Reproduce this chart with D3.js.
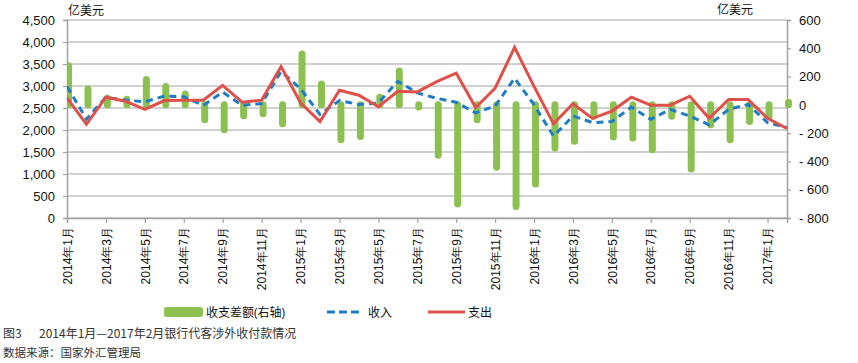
<!DOCTYPE html>
<html>
<head>
<meta charset="utf-8">
<script src="https://cdn.jsdelivr.net/npm/d3@7/dist/d3.min.js"></script>
<style>
  body { margin: 0; background: #fff; }
  svg { display: block; font-family: "Open Sans", "Noto Sans CJK SC", sans-serif; }
</style>
</head>
<body>
<svg id="chart" width="858" height="363"></svg>
<script>
// months 2014-01 .. 2017-02
var months = [];
for (var yr = 2014; yr <= 2017; yr++) {
	for (var m = 1; m <= 12; m++) {
		if (yr == 2017 && m > 2) break;
		months.push(yr + "年" + m + "月");
	}
}

// 收入 (left axis, 亿美元)
var income = [2990, 2245, 2745, 2680, 2640, 2770, 2755, 2560, 2860, 2560, 2600, 3330,
	2940, 2355, 2670, 2580, 2615, 3105, 2845, 2720, 2630, 2390, 2545, 3175, 2575, 1860,
	2318, 2168, 2190, 2520, 2243, 2468, 2318, 2115, 2468, 2580, 2168, 2055];

// 支出 (left axis)
var expense = [2730, 2130, 2745, 2655, 2468, 2670, 2678, 2678, 3015, 2633, 2678, 3440,
	2618, 2190, 2903, 2790, 2528, 2880, 2865, 3100, 3293, 2510, 2950, 3878, 2990, 2140,
	2595, 2265, 2430, 2745, 2565, 2565, 2768, 2265, 2693, 2693, 2265, 2035];

// 收支差额 (right axis)
var balance = [277, 112, 46, 39, 180, 129, 76, -105, -176, -77, -62, -133,
	359, 147, -246, -223, 53, 239, -16, -357, -701, -105, -442, -718, -560, -305,
	-258, -81, -228, -235, -317, -81, -454, -140, -246, -117, -81, 18];

var leftTicks = [0, 500, 1000, 1500, 2000, 2500, 3000, 3500, 4000, 4500];
var rightTicks = [-800, -600, -400, -200, 0, 200, 400, 600];

var svg = d3.select("#chart");
var pLeft = 67, pRight = 787, pTop = 20, pBottom = 218;

var x = d3.scalePoint().domain(months).range([pLeft, pRight]);
var yL = d3.scaleLinear().domain([0, 4500]).range([pBottom, pTop]);
var yR = d3.scaleLinear().domain([-800, 600]).range([pBottom, pTop]);

svg.append("defs").append("clipPath").attr("id", "plotclip")
	.append("rect").attr("x", pLeft).attr("y", 0).attr("width", pRight - pLeft + 5).attr("height", 363);

// gridlines
svg.append("g").selectAll("line")
	.data(leftTicks).enter().append("line")
	.attr("x1", pLeft).attr("x2", pRight)
	.attr("y1", function(d) { return yL(d); })
	.attr("y2", function(d) { return yL(d); })
	.attr("stroke", "#a3a3a3").attr("stroke-width", 1);

// left axis
var gL = svg.append("g").attr("transform", "translate(" + pLeft + ",0)")
	.call(d3.axisLeft(yL).tickValues(leftTicks).tickSize(4).tickPadding(8).tickFormat(d3.format(",")));
// right axis
var gR = svg.append("g").attr("transform", "translate(" + pRight + ",0)")
	.call(d3.axisRight(yR).tickValues(rightTicks).tickSize(4).tickPadding(8)
		.tickFormat(function(d) { return d < 0 ? "- " + (-d) : d; }));
// bottom axis
var gX = svg.append("g").attr("transform", "translate(0," + pBottom + ")")
	.call(d3.axisBottom(x).tickValues(months.filter(function(d, i) { return i % 2 == 0; })).tickSize(5).tickPadding(0));

[gL, gR, gX].forEach(function(g) {
	g.select(".domain").attr("stroke", "#a3a3a3").attr("stroke-width", 1.5);
	g.selectAll(".tick line").attr("stroke", "#a3a3a3").attr("stroke-width", 1.2);
	g.selectAll("text").attr("fill", "#111").attr("font-size", 13);
});
gX.selectAll("text")
	.attr("font-size", 12)
	.attr("text-anchor", "end")
	.attr("transform", "translate(0,9) rotate(-90)")
	.attr("x", 0).attr("y", 0).attr("dy", "0.35em");

var plot = svg.append("g").attr("clip-path", "url(#plotclip)");

// bars
plot.selectAll(".bar")
	.data(balance).enter().append("line")
	.attr("class", "bar")
	.attr("x1", function(d, i) { return x(months[i]) + 1.5; })
	.attr("x2", function(d, i) { return x(months[i]) + 1.5; })
	.attr("y1", yR(0))
	.attr("y2", function(d) { return yR(d); })
	.attr("stroke", "#8cc152").attr("stroke-width", 7).attr("stroke-linecap", "round");

var lineL = function(arr) {
	return d3.line()
		.x(function(d, i) { return x(months[i]); })
		.y(function(d) { return yL(d); })(arr);
};

plot.append("path").attr("d", lineL(income))
	.attr("fill", "none").attr("stroke", "#1f7dc4").attr("stroke-width", 3)
	.attr("stroke-dasharray", "7,5");
plot.append("path").attr("d", lineL(expense))
	.attr("fill", "none").attr("stroke", "#e0504a").attr("stroke-width", 3)
	.attr("stroke-linejoin", "miter");

// unit labels
svg.append("text").attr("x", 68).attr("y", 15).attr("font-size", 12).attr("fill", "#111").text("亿美元");
svg.append("text").attr("x", 717).attr("y", 14).attr("font-size", 12).attr("fill", "#111").text("亿美元");

// legend
var lg = svg.append("g").attr("font-size", 12).attr("fill", "#111");
lg.append("rect").attr("x", 164).attr("y", 307).attr("width", 39).attr("height", 10).attr("rx", 3).attr("fill", "#8cc152");
lg.append("text").attr("x", 206).attr("y", 317).text("收支差额(右轴)");
lg.append("line").attr("x1", 327).attr("x2", 362).attr("y1", 312).attr("y2", 312)
	.attr("stroke", "#1f7dc4").attr("stroke-width", 3).attr("stroke-dasharray", "8,4");
lg.append("text").attr("x", 368).attr("y", 317).text("收入");
lg.append("line").attr("x1", 428).attr("x2", 465).attr("y1", 312).attr("y2", 312)
	.attr("stroke", "#e0504a").attr("stroke-width", 3);
lg.append("text").attr("x", 468).attr("y", 317).text("支出");

// caption
svg.append("text").attr("x", 3).attr("y", 338).attr("font-size", 12).attr("fill", "#333")
	.attr("font-family", "Noto Sans CJK SC").text("图3");
svg.append("text").attr("x", 39).attr("y", 338).attr("font-size", 12).attr("fill", "#333")
	.attr("font-family", "Noto Sans CJK SC").text("2014年1月—2017年2月银行代客涉外收付款情况");
svg.append("text").attr("x", 3).attr("y", 357).attr("font-size", 11.5).attr("fill", "#333")
	.attr("font-family", "Noto Sans CJK SC").text("数据来源：国家外汇管理局");
</script>
</body>
</html>
